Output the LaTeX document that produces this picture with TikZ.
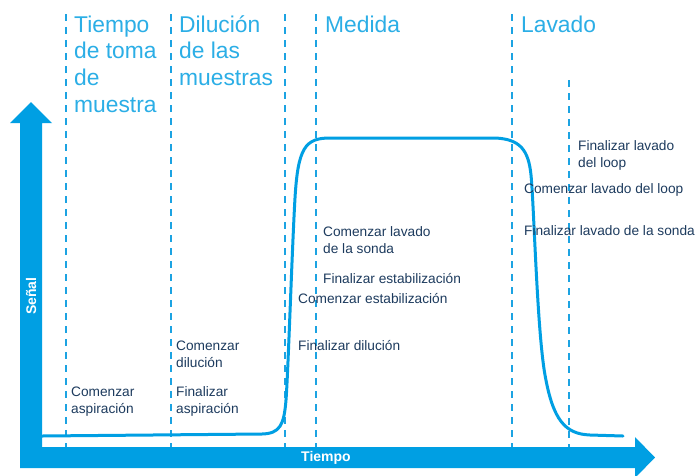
\documentclass[tikz,border=0pt]{standalone}
\usepackage{fontspec}
\setmainfont{Liberation Sans}
\definecolor{axisblue}{HTML}{009FE3}
\definecolor{dashblue}{HTML}{1CA3E2}
\definecolor{titleblue}{HTML}{2BAEE6}
\definecolor{labelnavy}{HTML}{1D3B5E}
\begin{document}
\begin{tikzpicture}[x=1pt,y=-1pt,
  guide/.style={draw=dashblue,line width=1.3pt,dash pattern=on 7pt off 6pt},
  signal/.style={draw=axisblue,line width=3pt,line cap=round},
  phase/.style={inner sep=0pt,anchor=base west,text=titleblue,font=\fontsize{22.8}{26.7}\selectfont},
  event/.style={inner sep=0pt,anchor=base west,text=labelnavy,font=\fontsize{13.7}{17}\selectfont},
  axislabel/.style={inner sep=0pt,text=white,font=\bfseries\fontsize{14}{16}\selectfont}]
\useasboundingbox (0,0) rectangle (699,475);
\fill[white] (0,0) rectangle (699,475);
% dashed guides
\foreach \xx in {66,171,285,316,512} \draw[guide] (\xx,14) -- (\xx,447);
\draw[guide] (569,80) -- (569,447);
% signal curve
\draw[signal] (42,436) -- (262,434) .. controls (280,433.5) and (284,425) .. (286,400)
  .. controls (288,375) and (292,250) .. (295,198)
  .. controls (298,148) and (305,138) .. (330,138) -- (495,138)
  .. controls (520,139) and (528.5,150) .. (531,175)
  .. controls (534,205) and (537,330) .. (545,375)
  .. controls (553,420) and (565,434) .. (590,435) -- (623,436);
% axes
\fill[axisblue] (20,468) -- (20,123) -- (10,123) -- (31,102) -- (52,123) -- (42,123)
  -- (42,447) -- (635,447) -- (635,437) -- (655,457.5) -- (635,478) -- (635,468) -- cycle;
\node[axislabel,rotate=90] (senal) at (31,296) {Señal};
\node[axislabel] (tiempo) at (326,458) {Tiempo};
% phase titles
\node[phase] (t1a) at (74,32) {Tiempo};
\node[phase] (t1b) at (74,58.7) {de toma};
\node[phase] (t1c) at (74,85.4) {de};
\node[phase] (t1d) at (74,112) {muestra};
\node[phase] (t2a) at (179,32) {Dilución};
\node[phase] (t2b) at (179,58.7) {de las};
\node[phase] (t2c) at (179,85.4) {muestras};
\node[phase] (t3) at (325,32) {Medida};
\node[phase] (t4) at (521,32) {Lavado};
% events
\node[event] (e1a) at (71,396) {Comenzar};
\node[event] (e1b) at (71,413) {aspiración};
\node[event] (e2a) at (176,350) {Comenzar};
\node[event] (e2b) at (176,367) {dilución};
\node[event] (e3a) at (176,396) {Finalizar};
\node[event] (e3b) at (176,413) {aspiración};
\node[event] (e4) at (298,350) {Finalizar dilución};
\node[event] (e5) at (298,303) {Comenzar estabilización};
\node[event] (e6) at (323,283) {Finalizar estabilización};
\node[event] (e7a) at (323,236) {Comenzar lavado};
\node[event] (e7b) at (323,253) {de la sonda};
\node[event] (e8) at (524,235) {Finalizar lavado de la sonda};
\node[event] (e9) at (524,193) {Comenzar lavado del loop};
\node[event] (e10a) at (578,150) {Finalizar lavado};
\node[event] (e10b) at (578,167) {del loop};
\end{tikzpicture}
\end{document}
